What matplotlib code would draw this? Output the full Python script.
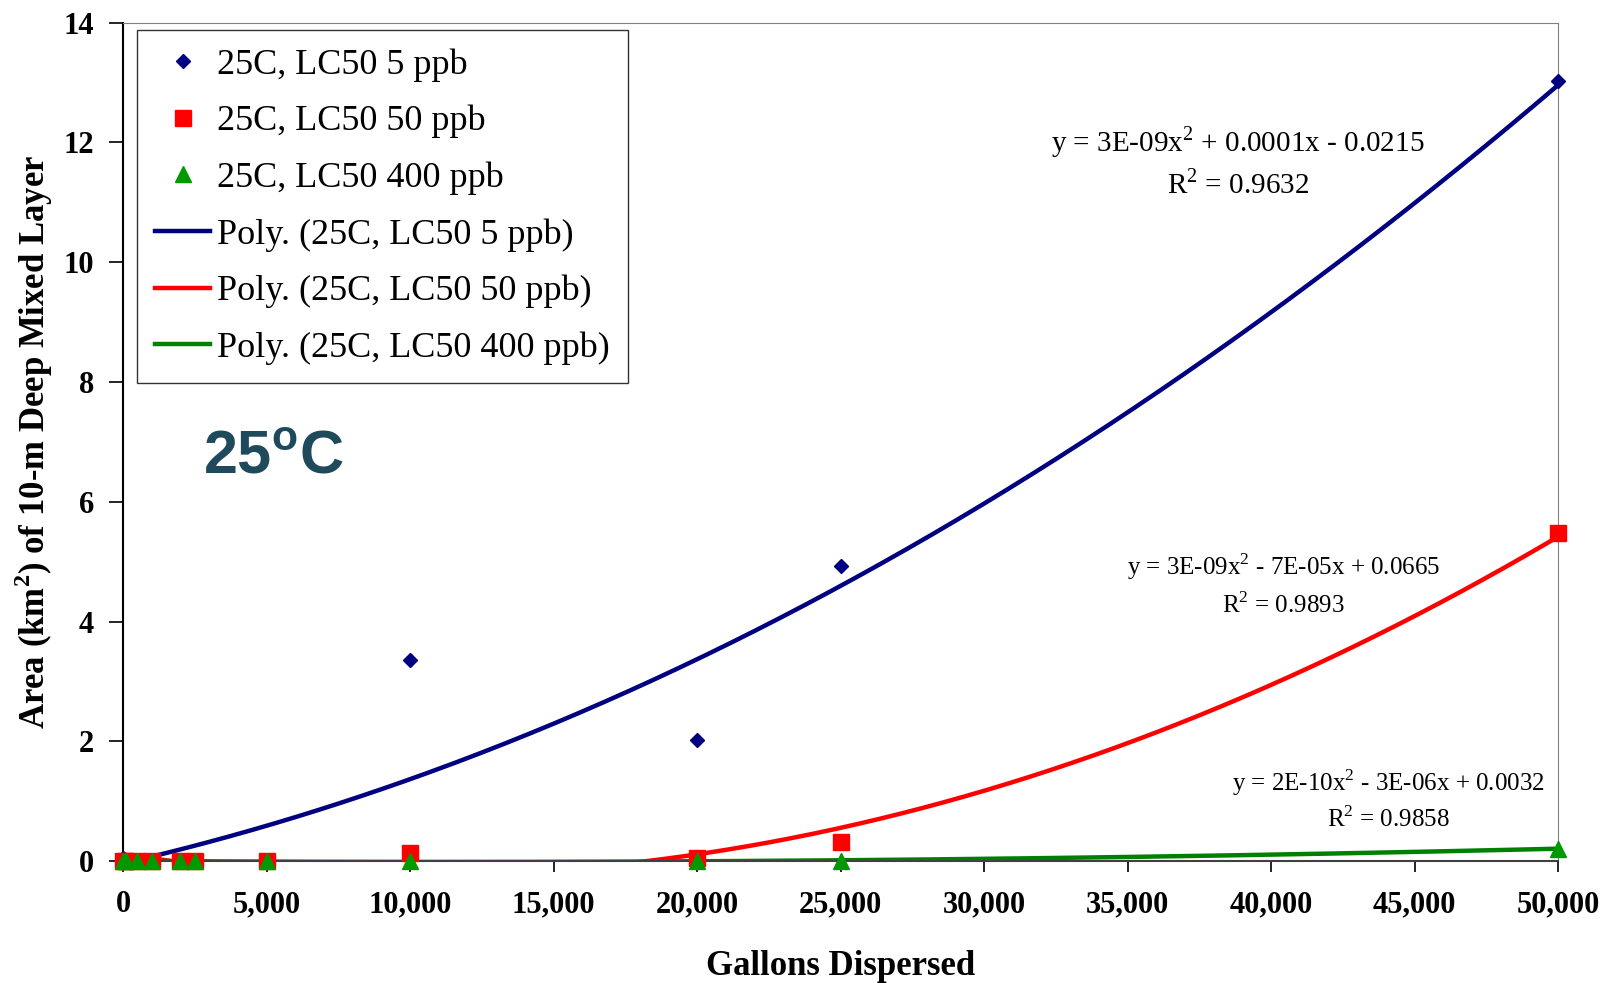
"""
Area of 10-m deep mixed layer above LC50 versus gallons dispersed at 25 C,
with second-order polynomial trendlines for three LC50 thresholds.
"""

import numpy as np
import matplotlib
matplotlib.use('Agg')
import matplotlib.pyplot as plt
from matplotlib.ticker import FuncFormatter

plt.rcParams.update({
    'font.family': ['Liberation Serif', 'DejaVu Serif'],
    'mathtext.fontset': 'custom',
    'mathtext.rm': 'Liberation Serif',
    'mathtext.bf': 'Liberation Serif:bold',
})

# ---------------------------------------------------------------------------
# Data
# ---------------------------------------------------------------------------
gallons = [0, 100, 500, 1000, 2000, 2500, 5000, 10000, 20000, 25000, 50000]
area_5ppb = [0.05, 0.0, 0.0, 0.0, 0.0, 0.0, 0.0, 3.35, 2.02, 4.92, 13.02]
area_50ppb = [0.0, 0.0, 0.0, 0.0, 0.0, 0.0, 0.0, 0.13, 0.05, 0.32, 5.47]
area_400ppb = [0.0, 0.0, 0.0, 0.0, 0.0, 0.0, 0.0, 0.0, 0.0, 0.0, 0.21]

labels = ['25C, LC50 5 ppb', '25C, LC50 50 ppb', '25C, LC50 400 ppb']
trend_eqs = ['y = 3E-09x$^2$ + 0.0001x - 0.0215',
             'y = 3E-09x$^2$ - 7E-05x + 0.0665',
             'y = 2E-10x$^2$ - 3E-06x + 0.0032']
r2_texts = ['R$^2$ = 0.9632', 'R$^2$ = 0.9893', 'R$^2$ = 0.9858']
x_ticks = [0, 5000, 10000, 15000, 20000, 25000, 30000, 35000, 40000,
           45000, 50000]
y_ticks = [0, 2, 4, 6, 8, 10, 12, 14]

series = [area_5ppb, area_50ppb, area_400ppb]
marker_colors = ['#000080', '#FF0000', '#009900']
line_colors = ['#000080', '#FF0000', '#008000']
markers = ['D', 's', '^']
marker_sizes = [7, 11, 12]
# where the equation labels sit (data coords, centre of text), font size
eq_pos = [(38850, 12.01, 11.30, 21), (40420, 4.91, 4.28, 18),
          (44070, 1.31, 0.70, 18)]

fig = plt.figure(figsize=(16.08, 9.83), dpi=100)
ax = fig.add_axes([0.0765, 0.124, 0.8925, 0.853])

x = np.array(gallons, dtype=float)
xs = np.linspace(0, 50000, 400)

handles_pts, handles_fit = [], []
for ys, lab, lc in zip(series, labels, line_colors):
    coef = np.polyfit(x, np.array(ys), 2)
    fit, = ax.plot(xs, np.polyval(coef, xs), color=lc, linewidth=3.2,
                   zorder=2, label=f'Poly. ({lab})')
    handles_fit.append(fit)

for ys, lab, mc, mk, ms in zip(series, labels, marker_colors, markers,
                               marker_sizes):
    pts, = ax.plot(gallons, ys, linestyle='none', marker=mk, color=mc,
                   markersize=ms, zorder=3, label=lab, clip_on=False)
    handles_pts.append(pts)

for eq, r2, (ex, ey, ry, fs) in zip(trend_eqs, r2_texts, eq_pos):
    ax.text(ex, ey, eq, ha='center', va='center', fontsize=fs)
    ax.text(ex, ry, r2, ha='center', va='center', fontsize=fs)

ax.text(5250, 6.73, '25$^{\\mathregular{o}}$C', fontsize=44,
        fontweight='bold', color='#1F4A5C', ha='center', va='center',
        family='Liberation Sans')

ax.set_xlim(0, 50000)
ax.set_ylim(0, 14)
ax.set_xticks(x_ticks)
ax.set_yticks(y_ticks)
ax.xaxis.set_major_formatter(FuncFormatter(lambda v, p: f'{int(v):,}'))
ax.tick_params(direction='out', width=1.2, labelsize=22)
ax.tick_params(axis='x', length=8, pad=13)
ax.tick_params(axis='y', length=10, pad=11)
for lbl in ax.get_xticklabels() + ax.get_yticklabels():
    lbl.set_fontweight('bold')

ax.set_xlabel('Gallons Dispersed', fontsize=25, fontweight='bold',
              labelpad=22)
ax.set_ylabel('Area (km$^{\\mathbf{2}}$) of 10-m Deep Mixed Layer',
              fontsize=25, fontweight='bold', labelpad=6)

ax.spines['top'].set_color('#808080')
ax.spines['right'].set_color('#808080')
ax.spines['left'].set_linewidth(1.5)
ax.spines['bottom'].set_color('#404040')
ax.spines['bottom'].set_linewidth(1.5)

leg = ax.legend(handles_pts + handles_fit,
                [h.get_label() for h in handles_pts + handles_fit],
                loc='upper left', bbox_to_anchor=(0.01, 0.991),
                borderaxespad=0, fontsize=26, frameon=True,
                fancybox=False, edgecolor='black', handlelength=1.5,
                labelspacing=0.64, borderpad=0.5, handletextpad=0.2)
leg.get_frame().set_linewidth(1.0)

fig.savefig('out.png', dpi=100)
